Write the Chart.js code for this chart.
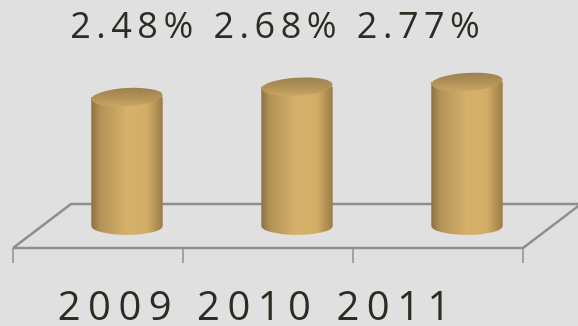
<!DOCTYPE html>
<html>
<head>
<meta charset="utf-8">
<script src="https://cdn.jsdelivr.net/npm/chart.js@4"></script>
<style>
  html, body { margin: 0; padding: 0; background: #e0e0e0; }
  canvas { display: block; }
</style>
</head>
<body>
<canvas id="growthChart" width="578" height="326"></canvas>
<script>
// data
const years = ["2009", "2010", "2011"];
const growth = [2.48, 2.68, 2.77];
const growthLabels = growth.map(v => v.toFixed(2) + "%");

const DEPTH_X = 29;  // half depth of the floor, px
const DEPTH_Y = 22;
const LINE = "#8e8e8e";
const INK = "#2e2b22";

// floor slab + front ticks, drawn behind the bars
const floorPlugin = {
  id: "floor",
  beforeDatasetsDraw(chart) {
    const { ctx, chartArea, scales } = chart;
    const base = scales.y.getPixelForValue(0);
    const fy = base + DEPTH_Y, by = base - DEPTH_Y;
    const l = chartArea.left, r = chartArea.right;
    ctx.save();
    ctx.strokeStyle = LINE;
    ctx.lineWidth = 2.5;
    ctx.beginPath();
    ctx.moveTo(l - DEPTH_X, fy);
    ctx.lineTo(r - DEPTH_X, fy);
    ctx.lineTo(r + DEPTH_X, by);
    ctx.moveTo(l - DEPTH_X, fy);
    ctx.lineTo(l + DEPTH_X, by);
    ctx.lineTo(r + DEPTH_X + 10, by);
    ctx.stroke();
    // ticks at category boundaries
    ctx.lineWidth = 1.5;
    const step = (r - l) / years.length;
    ctx.beginPath();
    for (let i = 0; i <= years.length; i++) {
      const x = l - DEPTH_X + i * step;
      ctx.moveTo(x, fy);
      ctx.lineTo(x, fy + 15);
    }
    ctx.stroke();
    ctx.restore();
  }
};

function drawCylinder(ctx, cx, top, bottom, w) {
  const rx = w / 2, ry = 9;
  const body = ctx.createLinearGradient(cx - rx, 0, cx + rx, 0);
  body.addColorStop(0, "#8c7040");
  body.addColorStop(0.12, "#b39256");
  body.addColorStop(0.5, "#d5b16b");
  body.addColorStop(0.78, "#d2ad66");
  body.addColorStop(1, "#9a7c47");
  ctx.beginPath();
  ctx.moveTo(cx - rx, top);
  ctx.lineTo(cx - rx, bottom);
  ctx.ellipse(cx, bottom, rx, ry, 0, Math.PI, 0, true);
  ctx.lineTo(cx + rx, top);
  ctx.closePath();
  ctx.fillStyle = body;
  ctx.fill();

  const cap = ctx.createLinearGradient(0, top - ry, 0, top + ry);
  cap.addColorStop(0, "#9d8150");
  cap.addColorStop(0.6, "#b49458");
  cap.addColorStop(1, "#c7a565");
  ctx.beginPath();
  ctx.ellipse(cx, top, rx, ry, -0.06, 0, Math.PI * 2);
  ctx.fillStyle = cap;
  ctx.fill();
}

const cylinderPlugin = {
  id: "cylinders",
  afterDatasetsDraw(chart) {
    const { ctx } = chart;
    const meta = chart.getDatasetMeta(0);
    ctx.save();
    meta.data.forEach(bar => {
      drawCylinder(ctx, bar.x, bar.y, bar.base, bar.width);
    });
    ctx.restore();
  }
};

function spacedText(ctx, text, cx, cy, font, spacing) {
  ctx.font = font;
  ctx.letterSpacing = spacing + "px";
  const w = ctx.measureText(text).width - spacing;
  ctx.textAlign = "left";
  ctx.textBaseline = "middle";
  ctx.fillText(text, cx - w / 2, cy);
}

const textPlugin = {
  id: "rows",
  afterDraw(chart) {
    const { ctx } = chart;
    ctx.save();
    ctx.fillStyle = INK;
    spacedText(ctx, growthLabels.join(" "), 275, 28, "36px 'Open Sans'", 5.5);
    spacedText(ctx, years.join(" "), 254, 309, "40px 'Open Sans'", 7.5);
    ctx.restore();
  }
};

new Chart(document.getElementById("growthChart"), {
  type: "bar",
  data: {
    labels: years,
    datasets: [{
      data: growth,
      backgroundColor: "rgba(0,0,0,0)",
      borderWidth: 0,
      barPercentage: 0.84,
      categoryPercentage: 0.5
    }]
  },
  options: {
    responsive: false,
    animation: false,
    layout: { padding: { left: 42, right: 26, top: 18, bottom: 100 } },
    scales: {
      x: { display: false },
      y: { display: false, min: 0, max: 4 }
    },
    plugins: {
      legend: { display: false },
      tooltip: { enabled: false }
    }
  },
  plugins: [floorPlugin, cylinderPlugin, textPlugin]
});
</script>
</body>
</html>
